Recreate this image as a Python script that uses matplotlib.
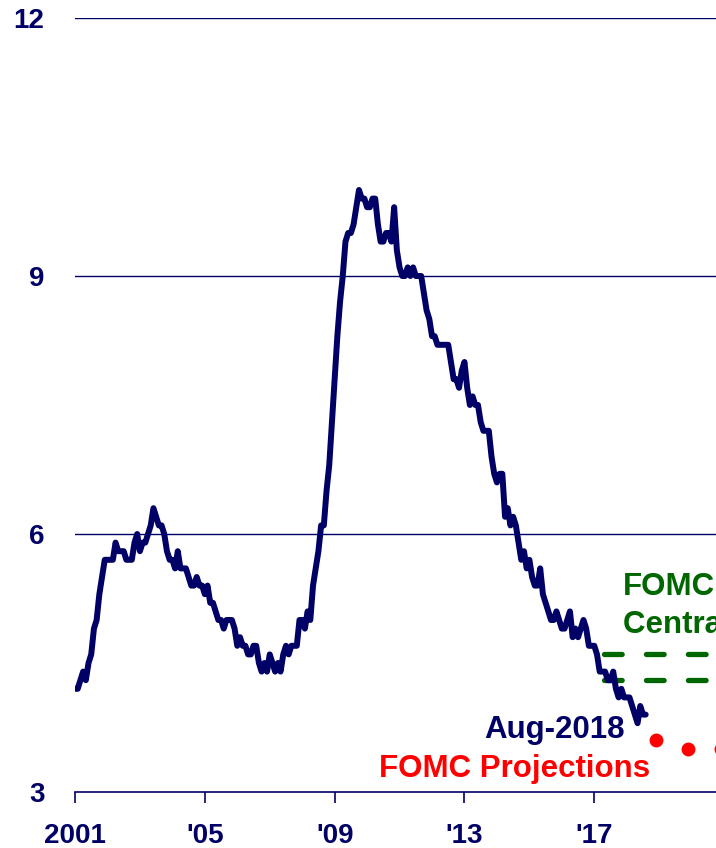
import numpy as np
import matplotlib.pyplot as plt

plt.rcParams['font.family'] = ['Liberation Sans', 'DejaVu Sans']

# 失业率月度数据 2001-01 ~ 2018-08
unrate = [
    4.2, 4.2, 4.3, 4.4, 4.3, 4.5, 4.6, 4.9, 5.0, 5.3, 5.5, 5.7,  # 2001
    5.7, 5.7, 5.7, 5.9, 5.8, 5.8, 5.8, 5.7, 5.7, 5.7, 5.9, 6.0,  # 2002
    5.8, 5.9, 5.9, 6.0, 6.1, 6.3, 6.2, 6.1, 6.1, 6.0, 5.8, 5.7,  # 2003
    5.7, 5.6, 5.8, 5.6, 5.6, 5.6, 5.5, 5.4, 5.4, 5.5, 5.4, 5.4,  # 2004
    5.3, 5.4, 5.2, 5.2, 5.1, 5.0, 5.0, 4.9, 5.0, 5.0, 5.0, 4.9,  # 2005
    4.7, 4.8, 4.7, 4.7, 4.6, 4.6, 4.7, 4.7, 4.5, 4.4, 4.5, 4.4,  # 2006
    4.6, 4.5, 4.4, 4.5, 4.4, 4.6, 4.7, 4.6, 4.7, 4.7, 4.7, 5.0,  # 2007
    5.0, 4.9, 5.1, 5.0, 5.4, 5.6, 5.8, 6.1, 6.1, 6.5, 6.8, 7.3,  # 2008
    7.8, 8.3, 8.7, 9.0, 9.4, 9.5, 9.5, 9.6, 9.8, 10.0, 9.9, 9.9,  # 2009
    9.8, 9.8, 9.9, 9.9, 9.6, 9.4, 9.4, 9.5, 9.5, 9.4, 9.8, 9.3,  # 2010
    9.1, 9.0, 9.0, 9.1, 9.0, 9.1, 9.0, 9.0, 9.0, 8.8, 8.6, 8.5,  # 2011
    8.3, 8.3, 8.2, 8.2, 8.2, 8.2, 8.2, 8.0, 7.8, 7.8, 7.7, 7.9,  # 2012
    8.0, 7.7, 7.5, 7.6, 7.5, 7.5, 7.3, 7.2, 7.2, 7.2, 6.9, 6.7,  # 2013
    6.6, 6.7, 6.7, 6.2, 6.3, 6.1, 6.2, 6.1, 5.9, 5.7, 5.8, 5.6,  # 2014
    5.7, 5.5, 5.4, 5.4, 5.6, 5.3, 5.2, 5.1, 5.0, 5.0, 5.1, 5.0,  # 2015
    4.9, 4.9, 5.0, 5.1, 4.8, 4.9, 4.8, 4.9, 5.0, 4.9, 4.7, 4.7,  # 2016
    4.7, 4.6, 4.4, 4.4, 4.4, 4.3, 4.3, 4.4, 4.2, 4.1, 4.2, 4.1,  # 2017
    4.1, 4.1, 4.0, 3.9, 3.8, 4.0, 3.9, 3.9,                      # 2018
]
start_year = 2001

# FOMC 预测（年末中位数）
proj_years = [2018, 2019, 2020]
proj_values = [3.6, 3.5, 3.5]

# FOMC 长期中枢区间
central_low = 4.3
central_high = 4.6
central_start = 2017.3

xticks = [2001, 2005, 2009, 2013, 2017]
xtick_labels = ['2001', "'05", "'09", "'13", "'17"]
yticks = [3, 6, 9, 12]

navy = '#000066'
green = '#006600'
red = '#ff0000'

x = start_year + np.arange(len(unrate)) / 12.0

fig = plt.figure(figsize=(7.16, 8.48), dpi=100)
ax = fig.add_axes([75 / 716, 56 / 848, 1 - 75 / 716, 774 / 848])

for yv in yticks[1:]:
    ax.axhline(yv, color=navy, lw=1.0, zorder=1)

ax.plot(x, unrate, color=navy, lw=4.3, solid_capstyle='round', solid_joinstyle='round', zorder=3)

xmax = 2020.75
for yv in [central_high, central_low]:
    ax.plot([central_start, xmax + 1], [yv, yv], color=green, lw=3.8,
            dashes=(3.35, 4.6), dash_capstyle='round', zorder=2)

ax.plot(np.array(proj_years) + 0.9, proj_values, 'o', color=red, ms=10, mec='none', zorder=4)

ax.set_xlim(2001, xmax)
ax.set_ylim(3, 12)

for s in ['top', 'right', 'left']:
    ax.spines[s].set_visible(False)
ax.spines['bottom'].set_color(navy)
ax.spines['bottom'].set_linewidth(1.2)

ax.set_xticks(xticks)
ax.set_xticklabels(xtick_labels)
ax.set_yticks(yticks)
ax.tick_params(axis='x', direction='out', length=8, width=1.2, color=navy, pad=14,
               labelsize=20, labelcolor=navy)
ax.tick_params(axis='y', length=0, pad=22, labelsize=20, labelcolor=navy)
for lab in ax.get_xticklabels() + ax.get_yticklabels():
    lab.set_fontweight('bold')

ax.text(2017.89, 5.29, 'FOMC', color=green, fontsize=22.5, fontweight='bold',
        va='baseline', ha='left', clip_on=False)
ax.text(2017.89, 4.85, 'Central Tendency', color=green, fontsize=22.5, fontweight='bold',
        va='baseline', ha='left', clip_on=False)
ax.text(2017.95, 3.63, 'Aug-2018', color=navy, fontsize=22.5, fontweight='bold',
        va='baseline', ha='right')
ax.text(2018.72, 3.17, 'FOMC Projections', color=red, fontsize=22.5, fontweight='bold',
        va='baseline', ha='right')

fig.savefig('out.png', dpi=100)
